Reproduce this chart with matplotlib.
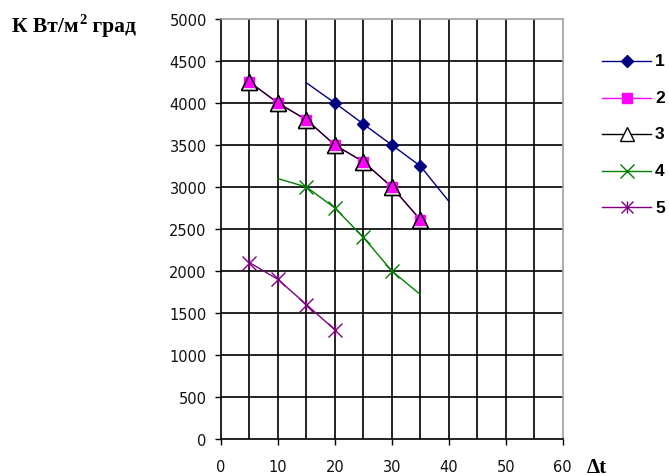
import matplotlib
matplotlib.use("Agg")
import matplotlib.pyplot as plt
from matplotlib.lines import Line2D

# Heat transfer coefficient K versus temperature difference Δt
x1 = [15, 20, 25, 30, 35, 40]
y1 = [4240, 4000, 3750, 3500, 3250, 2830]
mark1 = [1, 2, 3, 4]

x2 = [5, 10, 15, 20, 25, 30, 35]
y2 = [4250, 4000, 3800, 3500, 3300, 3000, 2610]

x3 = [5, 10, 15, 20, 25, 30, 35]
y3 = [4250, 4000, 3800, 3500, 3300, 3000, 2610]

x4 = [10, 15, 20, 25, 30, 35]
y4 = [3100, 3000, 2750, 2400, 2000, 1720]
mark4 = [1, 2, 3, 4]

x5 = [5, 10, 15, 20]
y5 = [2100, 1900, 1600, 1300]

series_labels = ["1", "2", "3", "4", "5"]
x_ticks = [0, 10, 20, 30, 40, 50, 60]
y_ticks = list(range(0, 5001, 500))

W, H = 669, 477
fig = plt.figure(figsize=(W / 100, H / 100), dpi=100)
ax = fig.add_axes([221 / W, 1 - 440 / H, (562.7 - 221) / W, (440 - 20) / H])

ax.set_xlim(0, 60)
ax.set_ylim(0, 5000)

# grid: vertical every 5, horizontal every 500
for gx in range(5, 60, 5):
    ax.axvline(gx, color="black", lw=1.2, zorder=1)
for gy in range(500, 5000, 500):
    ax.axhline(gy, color="black", lw=1.2, zorder=1)

ax.set_xticks(x_ticks)
ax.set_yticks(y_ticks)
ax.tick_params(axis="both", direction="out", length=4.3, width=1.0, colors="black",
               labelsize=10.5)
ax.tick_params(axis="x", pad=10)
ax.tick_params(axis="y", pad=6)
for lab in ax.get_xticklabels() + ax.get_yticklabels():
    lab.set_color("#111111")

for side in ("left", "bottom"):
    ax.spines[side].set_color("black")
    ax.spines[side].set_linewidth(1.2)
for side in ("top", "right"):
    ax.spines[side].set_color("#a0a0a0")
    ax.spines[side].set_linewidth(1.2)

c1, c2, c3, c4, c5 = "#000080", "#ff00ff", "#000000", "#008000", "#800080"

ax.plot(x1, y1, color=c1, lw=1.0, marker="D", ms=6, markevery=mark1,
        mfc=c1, mec=c1, zorder=3)
ax.plot(x4, y4, color=c4, lw=1.0, marker="x", ms=10, mew=1.0, markevery=mark4,
        zorder=3)
ax.plot(x5, y5, color=c5, lw=1.0, marker="x", ms=10, mew=1.0, zorder=3)
ax.plot(x5, y5, color=c5, lw=0, marker="|", ms=9, mew=1.0, zorder=3)
ax.plot(x2, y2, color=c2, lw=1.0, zorder=3)
ax.plot(x3, y3, color=c3, lw=0.9, zorder=3.2)
ax.plot(x3, y3, lw=0, marker="^", ms=11, mfc="white", mec=c3, mew=1.0, zorder=3.5)
ax.plot(x2, y2, lw=0, marker="s", ms=6.5, mfc=c2, mec=c2, zorder=4)
ax.plot(x3, y3, lw=0, marker="^", ms=11, mfc="none", mec=c3, mew=1.0, zorder=5)

# legend drawn at the right of the plot
leg_y = [61.7, 99, 135, 171.7, 208.3]
styles = [
    dict(color=c1, marker="D", ms=6, mfc=c1, mec=c1),
    dict(color=c2, marker="s", ms=7, mfc=c2, mec=c2),
    dict(color=c3, marker="^", ms=10, mfc="white", mec=c3),
    dict(color=c4, marker="x", ms=10, mec=c4),
    dict(color=c5, marker="x", ms=9, mec=c5),
]
for yy, st, lab in zip(leg_y, styles, series_labels):
    fy = 1 - yy / H
    fig.add_artist(Line2D([602 / W, 651 / W], [fy, fy], transform=fig.transFigure,
                          lw=1.0, color=st["color"]))
    fig.add_artist(Line2D([627 / W], [fy], transform=fig.transFigure, lw=0,
                          marker=st["marker"], ms=st["ms"], mfc=st.get("mfc", "none"),
                          mec=st["mec"], mew=1.0))
    if lab == "5":
        fig.add_artist(Line2D([627 / W], [fy], transform=fig.transFigure, lw=0,
                              marker="|", ms=8, mec=c5, mew=1.0))
    fig.text(655 / W, fy, lab, fontsize=12.5, fontweight="bold",
             family="Liberation Sans", ha="left", va="center")

# axis titles: unit of K at top left, Δt at the end of the x axis
serif = dict(fontweight="bold", family="Liberation Serif")
fig.canvas.draw()
r = fig.canvas.get_renderer()
t1 = fig.text(12 / W, 1 - 32 / H, "К Вт/м", fontsize=15.5, ha="left",
              va="baseline", **serif)
w1 = t1.get_window_extent(r).width
t2 = fig.text(12 / W + (w1 + 0.5) / W, 1 - 24 / H, "2", fontsize=10.5, ha="left",
              va="baseline", **serif)
w2 = t2.get_window_extent(r).width
fig.text(12 / W + (w1 + w2 + 1) / W, 1 - 32 / H, " град", fontsize=15.5, ha="left",
         va="baseline", **serif)
fig.text(587 / W, 1 - 468 / H, "Δt", fontsize=15, ha="left", va="center", **serif)

fig.savefig("out.png", dpi=100)
